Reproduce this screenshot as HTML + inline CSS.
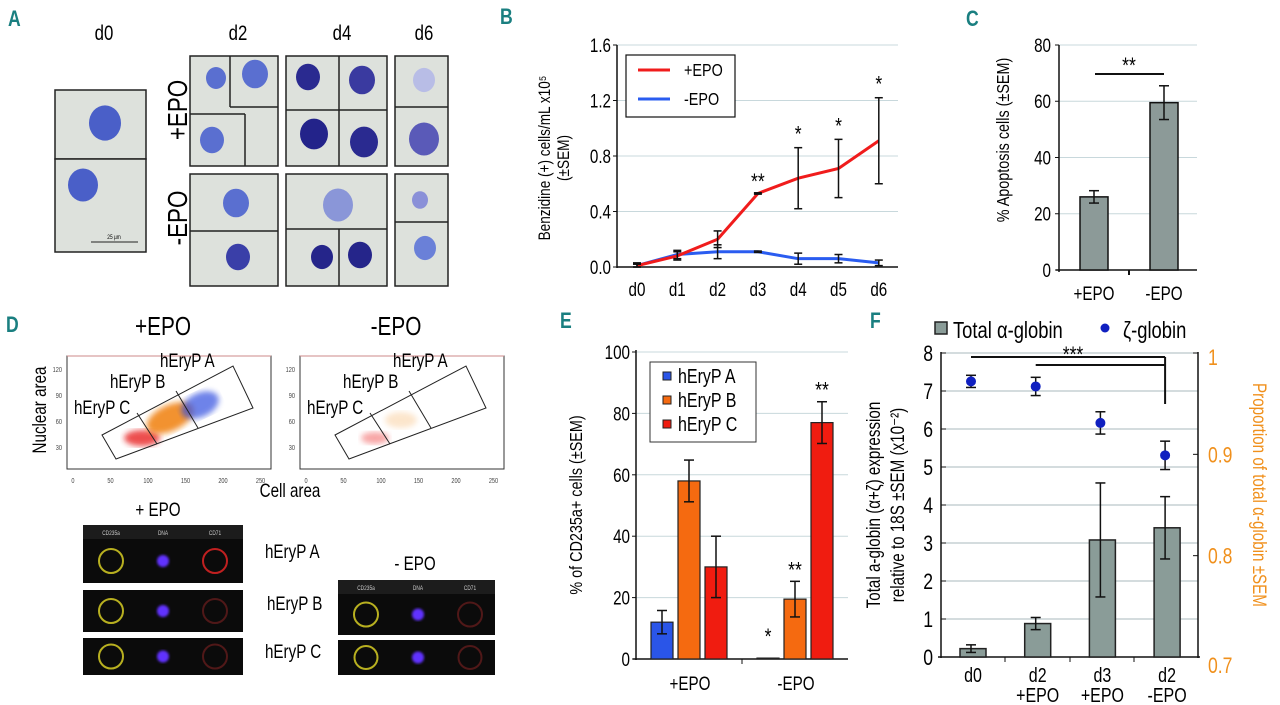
<!DOCTYPE html>
<html><head><meta charset="utf-8"><style>
body{margin:0;background:#fff}
svg{display:block;font-family:"Liberation Sans",sans-serif}
.pl{fill:#1a7f80;font-weight:bold;font-size:22px;font-family:"Liberation Sans",sans-serif}
</style></head><body>
<svg id="fig" width="1280" height="705" viewBox="0 0 1280 705">
<defs><filter id="bl"><feGaussianBlur stdDeviation="3"/></filter><filter id="bl2"><feGaussianBlur stdDeviation="1.2"/></filter></defs>
<text class="pl" x="8" y="26">A</text>
<text class="pl" x="500" y="24">B</text>
<text class="pl" x="966" y="26">C</text>
<text class="pl" x="6" y="332">D</text>
<text class="pl" x="560" y="328">E</text>
<text class="pl" x="870" y="328">F</text>

<g id="pa" font-size="21">
<text x="104" y="40" text-anchor="middle">d0</text>
<text x="238" y="40" text-anchor="middle">d2</text>
<text x="342" y="40" text-anchor="middle">d4</text>
<text x="424" y="40" text-anchor="middle">d6</text>
<text transform="translate(187,110) rotate(-90)" text-anchor="middle" font-size="28">+EPO</text>
<text transform="translate(187,218) rotate(-90)" text-anchor="middle" font-size="28">-EPO</text>
</g>

<g id="pd">
<text x="163" y="335" text-anchor="middle" font-size="26">+EPO</text>
<text x="396" y="335" text-anchor="middle" font-size="26">-EPO</text>
<text transform="translate(46,410) rotate(-90)" text-anchor="middle" font-size="19">Nuclear area</text>
<text x="290" y="497" text-anchor="middle" font-size="19">Cell area</text>
<text x="158" y="516" text-anchor="middle" font-size="19">+ EPO</text>
<text x="415" y="570" text-anchor="middle" font-size="19">- EPO</text>
<text x="265" y="558" font-size="19">hEryP A</text>
<text x="267" y="610" font-size="19">hEryP B</text>
<text x="265" y="658" font-size="19">hEryP C</text>
</g>

<g id="pb"></g>
<g id="pc"></g>
<g id="pe"></g>
<g id="pf"></g>
</svg>
<script>
const NS='http://www.w3.org/2000/svg';
function mk(p,t,a,txt){const e=document.createElementNS(NS,t);for(const k in a)e.setAttribute(k,a[k]);if(txt!==undefined)e.textContent=txt;p.appendChild(e);return e;}

const pa=document.getElementById('pa');
const cellBoxes=[[55,90,91,69],[55,159,91,93],[190,56,88,110],[190,174,88,112],[286,56,101,110],[286,174,101,112],[395,56,53,110],[395,174,53,112]];
const cells=[[105,123,16,'#4a5fc8'],[83,185,15,'#4a5fc8'],[216,78,10,'#5a6fd0'],[255,74,13,'#5a6fd0'],[212,140,12,'#5a6fd0'],[236,203,13,'#5a6fd0'],[238,257,12,'#3a3fa8'],[308,77,12,'#2a2a90'],[362,80,13,'#3a3aa0'],[314,134,14,'#23238a'],[364,142,14,'#2a2a90'],[338,205,15,'#8a96d8'],[322,257,11,'#25258a'],[360,255,12,'#25258a'],[424,80,11,'#b8bde6'],[424,139,15,'#5a5ab8'],[420,200,8,'#8a90d8'],[425,248,11,'#6a80d8']];
cellBoxes.forEach(b=>{const r=mk(pa,'rect',{x:b[0],y:b[1],width:b[2],height:b[3],fill:'#dde1dc',stroke:'#222','stroke-width':1.5});
});
[[230,56,230,107],[230,107,278,107],[190,114,245,114],[245,114,245,166],[190,231,278,231],[339,56,339,166],[286,110,387,110],[286,229,387,229],[339,229,339,286],[395,107,448,107],[395,222,448,222]].forEach(l=>mk(pa,'line',{x1:l[0],y1:l[1],x2:l[2],y2:l[3],stroke:'#222','stroke-width':1.5}));
cells.forEach(c=>{const e=mk(pa,'ellipse',{cx:c[0],cy:c[1],rx:c[2],ry:c[2]*1.1,fill:c[3]});
});
mk(pa,'line',{x1:91,y1:242,x2:138,y2:242,stroke:'#222','stroke-width':1});
mk(pa,'text',{x:114,y:239,'text-anchor':'middle','font-size':6},'25 µm');

const pd=document.getElementById('pd');
[0,233].forEach((o,i)=>{
 const r=mk(pd,'rect',{x:67+o,y:356,width:204,height:113,fill:'#fff',stroke:'#333','stroke-width':1});
 
 mk(pd,'line',{x1:67+o,y1:356,x2:271+o,y2:356,stroke:'#c88','stroke-width':1});
 if(i==0){
  mk(pd,'ellipse',{cx:142,cy:438,rx:18,ry:8,fill:'#e82020',filter:'url(#bl)',opacity:.8});
  mk(pd,'ellipse',{cx:170,cy:418,rx:25,ry:13,fill:'#f08010',filter:'url(#bl)',opacity:.85,transform:'rotate(-25 170 418)'});
  mk(pd,'ellipse',{cx:200,cy:405,rx:20,ry:12,fill:'#3050e0',filter:'url(#bl)',opacity:.7,transform:'rotate(-25 200 405)'});
 }else{
  mk(pd,'ellipse',{cx:142+o,cy:438,rx:14,ry:6,fill:'#f05050',filter:'url(#bl)',opacity:.5});
  mk(pd,'ellipse',{cx:168+o,cy:420,rx:16,ry:8,fill:'#f8c080',filter:'url(#bl)',opacity:.4});
 }
 mk(pd,'polygon',{points:[[102+o,435],[116+o,459],[253+o,408],[233+o,366]].join(' '),fill:'none',stroke:'#222','stroke-width':1});
 mk(pd,'line',{x1:137+o,y1:413,x2:157+o,y2:444,stroke:'#222'});
 mk(pd,'line',{x1:176+o,y1:391,x2:198+o,y2:428,stroke:'#222'});
 [0,50,100,150,200,250].forEach(v=>{const t=mk(pd,'text',{x:73+o+v*0.75,y:483,'text-anchor':'middle','font-size':7,fill:'#444'},v);});
 [[120,370],[90,396],[60,422],[30,448]].forEach(p=>{mk(pd,'text',{x:62+o,y:p[1]+2,'text-anchor':'end','font-size':7,fill:'#444'},p[0]);});
 mk(pd,'text',{x:160+o,y:367,'font-size':19},'hEryP A');
 mk(pd,'text',{x:110+o,y:388,'font-size':19},'hEryP B');
 mk(pd,'text',{x:74+o,y:414,'font-size':19},'hEryP C');
});
const fl=[[83,525,160,58,1],[83,590,160,42,0],[83,638,160,37,0],[338,580,157,55,1],[338,640,157,35,0]];
fl.forEach((f,i)=>{const r=mk(pd,'rect',{x:f[0],y:f[1],width:f[2],height:f[3],fill:'#0b0b0b'});
 
 let cy=f[1]+f[3]/2;
 if(f[4]){mk(pd,'rect',{x:f[0],y:f[1],width:f[2],height:14,fill:'#1c1c1c'});
  ['CD235a','DNA','CD71'].forEach((t,k)=>mk(pd,'text',{x:f[0]+28+k*52,y:f[1]+10,'text-anchor':'middle','font-size':6,fill:'#ccc'},t));cy=f[1]+14+(f[3]-14)/2;}
 const rr=Math.min(12,f[3]/2-6);
 mk(pd,'circle',{cx:f[0]+28,cy:cy,r:rr,fill:'none',stroke:'#b8b020','stroke-width':2});
 mk(pd,'circle',{cx:f[0]+80,cy:cy,r:6,fill:'#6030ff',filter:'url(#bl2)'});
 mk(pd,'circle',{cx:f[0]+132,cy:cy,r:rr,fill:'none',stroke:i==0?'#c02020':'#501818','stroke-width':2});
});

// ===== Panel B data =====
const bDays=['d0','d1','d2','d3','d4','d5','d6'];
const bPlus=[0.01,0.08,0.20,0.53,0.64,0.71,0.91];
const bPlusErr=[0.01,0.03,0.06,0.005,0.22,0.21,0.31];
const bMinus=[0.01,0.09,0.11,0.11,0.06,0.06,0.03];
const bMinusErr=[0.02,0.03,0.05,0.005,0.04,0.03,0.02];
const bSig=['','','','**','*','*','*'];
const bTicks=[0,0.4,0.8,1.2,1.6];
// ===== Panel C data =====
const cCats=['+EPO','-EPO'];
const cVals=[26,59.5];
const cErr=[2.2,6];
const cTicks=[0,20,40,60,80];
// ===== Panel E data =====
const eCats=['+EPO','-EPO'];
const eSeries=['hEryP A','hEryP B','hEryP C'];
const eA=[12,0.3];const eAerr=[3.8,0];
const eB=[58,19.5];const eBerr=[6.8,5.8];
const eC=[30,77];const eCerr=[10,6.8];
const eSig=[['','',''],['*','**','**']];
const eTicks=[0,20,40,60,80,100];
// ===== Panel F data =====
const fCats=[['d0'],['d2','+EPO'],['d3','+EPO'],['d2','-EPO']];
const fTotal=[0.22,0.88,3.08,3.4];
const fTotalErr=[0.1,0.16,1.5,0.82];
const fZeta=[0.972,0.967,0.931,0.899];
const fZetaErr=[0.006,0.009,0.011,0.014];
const fLeft=[0,1,2,3,4,5,6,7,8];
const fRight=[0.7,0.8,0.9,1];

const errBar=(g,x,y1,y2,w,col)=>{mk(g,'line',{x1:x,y1:y1,x2:x,y2:y2,stroke:col||'#111','stroke-width':1.5});
 mk(g,'line',{x1:x-w,y1:y1,x2:x+w,y2:y1,stroke:col||'#111','stroke-width':1.5});mk(g,'line',{x1:x-w,y1:y2,x2:x+w,y2:y2,stroke:col||'#111','stroke-width':1.5});};

(function(){const g=document.getElementById('pb');
const X=i=>637+i*40.3, Y=v=>267-v*(222/1.6);
bTicks.forEach(t=>{if(t>0)mk(g,'line',{x1:617,y1:Y(t),x2:898,y2:Y(t),stroke:'#c8d8dc'});
 const tl=mk(g,'text',{x:611,y:Y(t)+7,'text-anchor':'end','font-size':19},t.toFixed(1));
 mk(g,'line',{x1:613,y1:Y(t),x2:617,y2:Y(t),stroke:'#111'});});
mk(g,'line',{x1:617,y1:45,x2:617,y2:268,stroke:'#111','stroke-width':1.5});
mk(g,'line',{x1:617,y1:267,x2:898,y2:267,stroke:'#111','stroke-width':1.5});
bDays.forEach((d,i)=>{const t=mk(g,'text',{x:X(i),y:296,'text-anchor':'middle','font-size':19},d);});
const yl=mk(g,'text',{transform:'translate(550,158) rotate(-90)','text-anchor':'middle','font-size':17},'Benzidine (+) cells/mL x10⁵');
mk(g,'text',{transform:'translate(569,158) rotate(-90)','text-anchor':'middle','font-size':17},'(±SEM)');
const pts=(a)=>a.map((v,i)=>X(i)+','+Y(v)).join(' ');
const lm=mk(g,'polyline',{points:pts(bMinus),fill:'none',stroke:'#2a5cf0','stroke-width':3});
const lp=mk(g,'polyline',{points:pts(bPlus),fill:'none',stroke:'#f01c1c','stroke-width':3});
bPlus.forEach((v,i)=>errBar(g,X(i),Y(v+bPlusErr[i]),Y(v-bPlusErr[i]),4));
bMinus.forEach((v,i)=>errBar(g,X(i),Y(v+bMinusErr[i]),Y(Math.max(0,v-bMinusErr[i])),4));
bSig.forEach((s,i)=>{if(s){const t=mk(g,'text',{x:X(i),y:Y(bPlus[i]+bPlusErr[i])+(s=='*'?-6:-4),'text-anchor':'middle','font-size':22},s);}});
const lg=mk(g,'g',{});
mk(lg,'rect',{x:626,y:55,width:109,height:62,fill:'#fff',stroke:'#111','stroke-width':1.2});
mk(lg,'line',{x1:638,y1:70,x2:670,y2:70,stroke:'#f01c1c','stroke-width':3});
mk(lg,'line',{x1:638,y1:99,x2:670,y2:99,stroke:'#2a5cf0','stroke-width':3});
mk(lg,'text',{x:684,y:76,'font-size':18},'+EPO');mk(lg,'text',{x:684,y:105,'font-size':18},'-EPO');
})();

(function(){const g=document.getElementById('pc');
const X=i=>1094+i*70, Y=v=>270-v*(225/80);
cTicks.forEach(t=>{if(t>0)mk(g,'line',{x1:1059,y1:Y(t),x2:1197,y2:Y(t),stroke:'#c8d8dc'});
 mk(g,'line',{x1:1055,y1:Y(t),x2:1059,y2:Y(t),stroke:'#111'});
 const tl=mk(g,'text',{x:1051,y:Y(t)+7,'text-anchor':'end','font-size':19},t);});
mk(g,'line',{x1:1059,y1:45,x2:1059,y2:272,stroke:'#111','stroke-width':1.5});
mk(g,'line',{x1:1056,y1:270,x2:1197,y2:270,stroke:'#111','stroke-width':1.5});
mk(g,'line',{x1:1129,y1:270,x2:1129,y2:275,stroke:'#111','stroke-width':2});
mk(g,'text',{transform:'translate(1009,140) rotate(-90)','text-anchor':'middle','font-size':18},'% Apoptosis cells (±SEM)');
cCats.forEach((c,i)=>{const b=mk(g,'rect',{x:X(i)-14,y:Y(cVals[i]),width:28,height:Y(0)-Y(cVals[i]),fill:'#8c9a98',stroke:'#111','stroke-width':1.5});
 
 errBar(g,X(i),Y(cVals[i]+cErr[i]),Y(cVals[i]-cErr[i]),5);
 mk(g,'text',{x:X(i),y:300,'text-anchor':'middle','font-size':19},c);});
mk(g,'line',{x1:1095,y1:74,x2:1164,y2:74,stroke:'#111','stroke-width':2});
mk(g,'text',{x:1129,y:73,'text-anchor':'middle','font-size':22},'**');
})();

(function(){const g=document.getElementById('pe');
const Y=v=>659-v*3.07;const cols=['#2a55e8','#f56a10','#f01c10'];
const vals=[eA,eB,eC],errs=[eAerr,eBerr,eCerr];
eTicks.forEach(t=>{if(t>0)mk(g,'line',{x1:636,y1:Y(t),x2:848,y2:Y(t),stroke:'#c8d8dc'});
 mk(g,'line',{x1:632,y1:Y(t),x2:636,y2:Y(t),stroke:'#111'});
 const tl=mk(g,'text',{x:630,y:Y(t)+7,'text-anchor':'end','font-size':19},t);});
mk(g,'line',{x1:636,y1:350,x2:636,y2:660,stroke:'#111','stroke-width':1.5});
mk(g,'line',{x1:633,y1:659,x2:848,y2:659,stroke:'#111','stroke-width':1.5});
mk(g,'line',{x1:742,y1:659,x2:742,y2:664,stroke:'#111'});
mk(g,'text',{transform:'translate(582,505) rotate(-90)','text-anchor':'middle','font-size':18},'% of CD235a+ cells (±SEM)');
eCats.forEach((c,ci)=>{const base=651+ci*106;
 mk(g,'text',{x:base+39,y:690,'text-anchor':'middle','font-size':19},c);
 vals.forEach((s,si)=>{const x=base+si*27,v=s[ci];
  const b=mk(g,'rect',{x:x,y:Y(v),width:22,height:Y(0)-Y(v),fill:cols[si],stroke:'#222','stroke-width':1.2});
  
  if(errs[si][ci]>0)errBar(g,x+11,Y(v+errs[si][ci]),Y(v-errs[si][ci]),5);
  const s2=eSig[ci][si];if(s2){const t=mk(g,'text',{x:x+11,y:Y(v+errs[si][ci])-4-(v<1?10:0),'text-anchor':'middle','font-size':22},s2);}
 });});
const lg=mk(g,'g',{});
mk(lg,'rect',{x:650,y:362,width:106,height:80,fill:'#fff',stroke:'#333'});
eSeries.forEach((s,i)=>{mk(lg,'rect',{x:663,y:372+i*24,width:8,height:8,fill:cols[i],stroke:'#222'});mk(lg,'text',{x:678,y:383+i*24,'font-size':20},s);});
})();

(function(){const g=document.getElementById('pf');
const X=i=>973+i*64.7, Y=v=>657-v*38, YR=v=>657-(v-0.7)*(304/0.3);
fLeft.forEach(t=>{if(t>0)mk(g,'line',{x1:941,y1:Y(t),x2:1198,y2:Y(t),stroke:'#aab8bc'});
 mk(g,'line',{x1:941,y1:Y(t),x2:946,y2:Y(t),stroke:'#111'});
 const tl=mk(g,'text',{x:933,y:Y(t)+8,'text-anchor':'end','font-size':22},t);});
fRight.forEach(t=>{mk(g,'line',{x1:1193,y1:YR(t),x2:1198,y2:YR(t),stroke:'#111'});
 const tl=mk(g,'text',{x:1208,y:YR(t)+(t==1?12:t==0.7?16:8),'font-size':22,fill:'#f0901c'},String(t));});
mk(g,'line',{x1:941,y1:352,x2:941,y2:658,stroke:'#111','stroke-width':1.5});
mk(g,'line',{x1:1198,y1:352,x2:1198,y2:658,stroke:'#111','stroke-width':1.5});
mk(g,'line',{x1:938,y1:657,x2:1200,y2:657,stroke:'#111','stroke-width':1.5});
[1005,1070,1134].forEach(x=>mk(g,'line',{x1:x,y1:657,x2:x,y2:662,stroke:'#111'}));
mk(g,'text',{transform:'translate(880,505) rotate(-90)','text-anchor':'middle','font-size':19},'Total a-globin (α+ζ) expression');
mk(g,'text',{transform:'translate(904,505) rotate(-90)','text-anchor':'middle','font-size':19},'relative to 18S ±SEM  (x10⁻²)');
mk(g,'text',{transform:'translate(1253,495) rotate(90)','text-anchor':'middle','font-size':19,fill:'#f0901c'},'Proportion of total α-globin ±SEM');
fCats.forEach((c,i)=>{c.forEach((l,k)=>mk(g,'text',{x:X(i),y:682+k*20,'text-anchor':'middle','font-size':20},l));
 const b=mk(g,'rect',{x:X(i)-13,y:Y(fTotal[i]),width:26,height:Y(0)-Y(fTotal[i]),fill:'#8a9c98',stroke:'#222','stroke-width':1.5});
 
 errBar(g,X(i)-2,Y(fTotal[i]+fTotalErr[i]),Y(fTotal[i]-fTotalErr[i]),5);
 errBar(g,X(i)-2,YR(fZeta[i]+fZetaErr[i]),YR(fZeta[i]-fZetaErr[i]),5);
 const p=mk(g,'circle',{cx:X(i)-2,cy:YR(fZeta[i]),r:5,fill:'#1020c0'});
});
mk(g,'line',{x1:X(0)-2,y1:357,x2:X(3)-2,y2:357,stroke:'#111','stroke-width':2});
mk(g,'line',{x1:X(1)-2,y1:365,x2:X(3)-2,y2:365,stroke:'#111','stroke-width':2});
mk(g,'line',{x1:X(3)-2,y1:357,x2:X(3)-2,y2:404,stroke:'#111','stroke-width':2});
mk(g,'text',{x:1073,y:362,'text-anchor':'middle','font-size':22},'***');
const lg=mk(g,'g',{});
mk(lg,'rect',{x:935,y:322,width:12,height:12,fill:'#8a9c98',stroke:'#222','stroke-width':1.5});
mk(lg,'text',{x:953,y:338,'font-size':23},'Total α-globin');
mk(lg,'circle',{cx:1105,cy:328,r:4.5,fill:'#1020c0'});
mk(lg,'text',{x:1123,y:338,'font-size':23},'ζ-globin');
})();

// condense all text horizontally to mimic narrow font
document.querySelectorAll('#fig text').forEach(t=>{
 const tr=t.getAttribute('transform');
 if(tr){t.setAttribute('transform',tr+' scale(0.8,1)');}
 else{const x=+t.getAttribute('x')||0;t.setAttribute('transform','translate('+x+',0) scale(0.8,1) translate('+(-x)+',0)');}
});
</script>
</body></html>
